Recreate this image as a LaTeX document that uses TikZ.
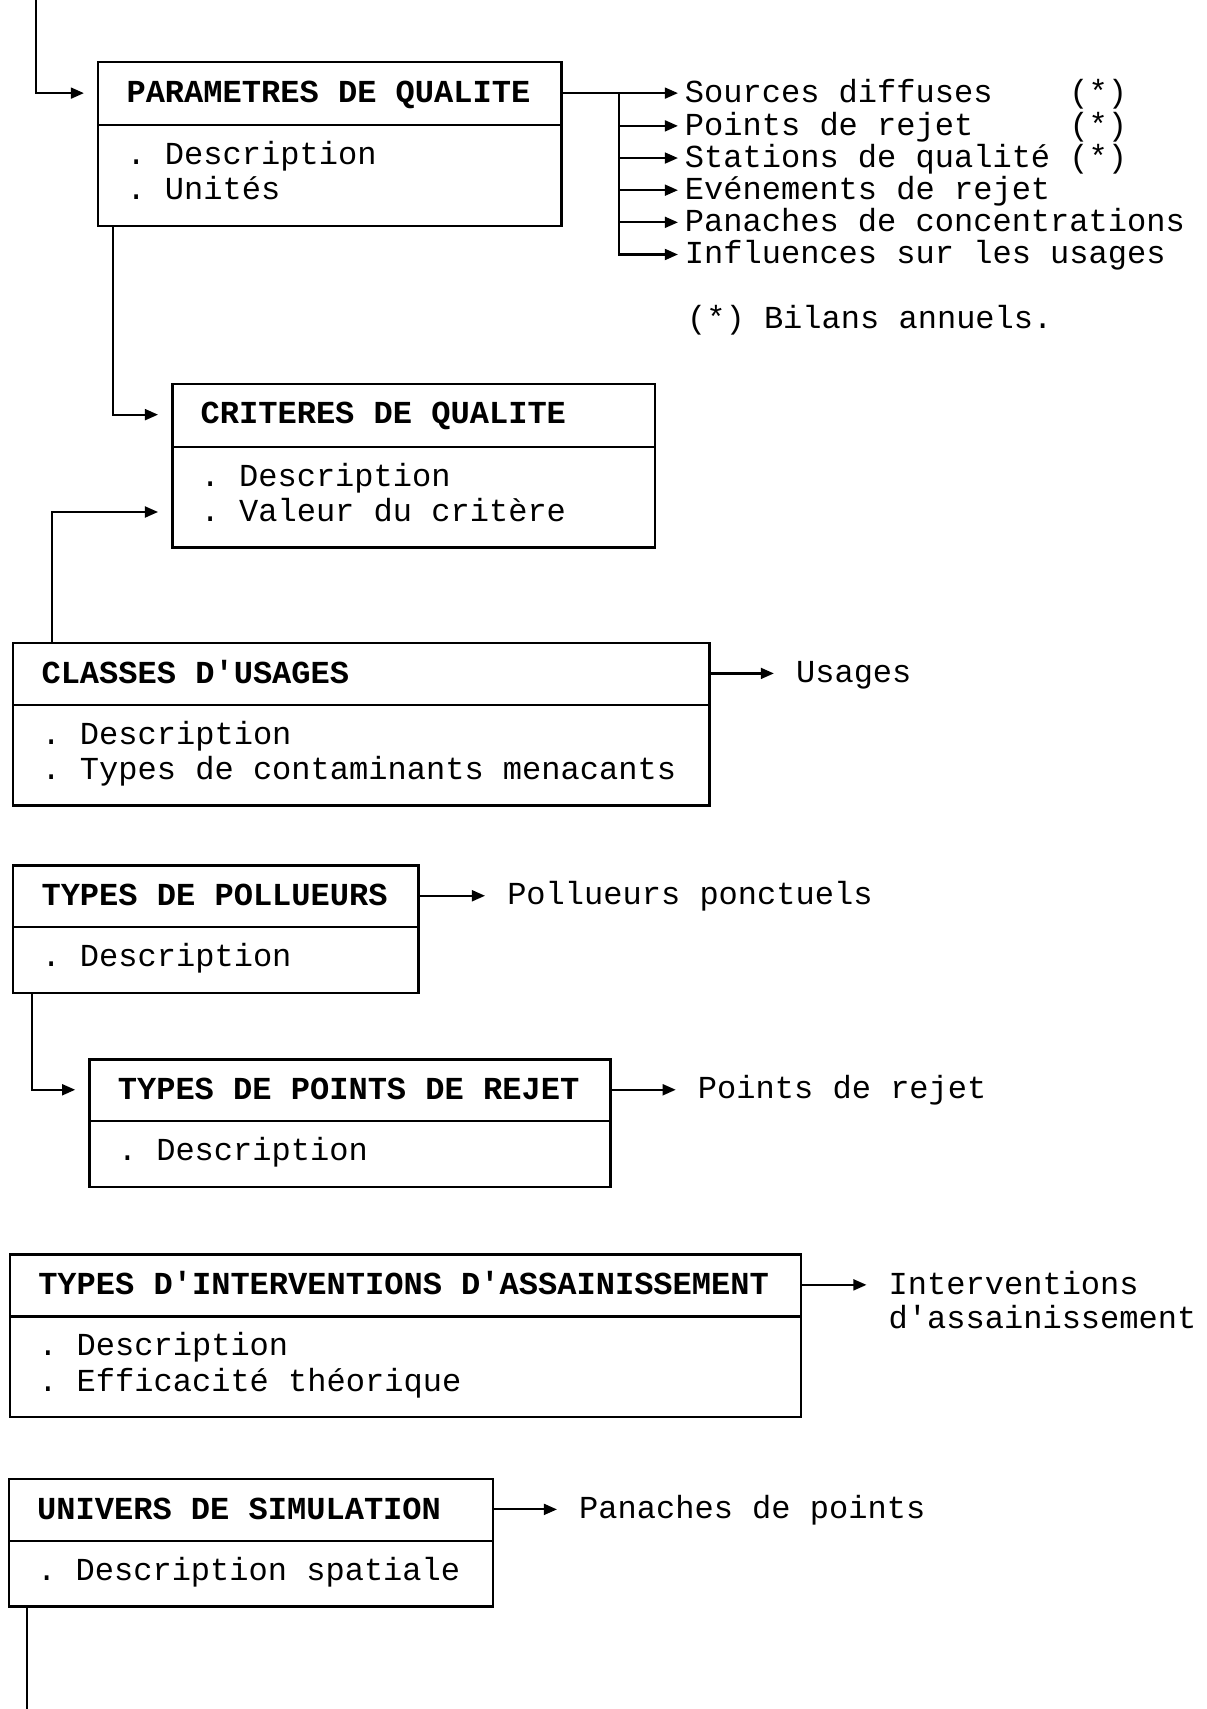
\documentclass[tikz,border=0pt]{standalone}
\usepackage{fontspec}
\setmonofont{Liberation Mono}
\usepackage{tikz}
\usetikzlibrary{shapes.multipart,arrows.meta,calc}
\newdimen\unitsize
\setlength{\unitsize}{0.5pt}
\newcommand\hstrut{\vrule height 10.9pt depth 2.3pt width 0pt}
\newcommand\lstrut{\vrule height 11.6pt depth 3.1pt width 0pt}

\begin{document}
\frenchspacing
\begin{tikzpicture}[x=\unitsize,y=\unitsize,font=\ttfamily\fontsize{14.7}{14.7}\selectfont]
\tikzset{entity/.style={draw, line width=1.1pt, rectangle split, rectangle split parts=2, anchor=north west, align=left, inner xsep=13pt, inner ysep=7pt, text width=#1, execute at begin node={\spaceskip=0pt\xspaceskip=0pt}}}%
\tikzset{wire/.style={line width=1pt}}%
\tikzset{link/.style={wire, -{Triangle[length=6pt,width=5pt]}}}%
\tikzset{tobox/.style={link, shorten >=6pt}}%
\tikzset{outtext/.style={anchor=west, align=left, inner xsep=10pt, inner ysep=0pt, execute at begin node={\spaceskip=0pt\xspaceskip=0pt}}}%
\tikzset{listtext/.style={anchor=west, inner xsep=3pt, inner ysep=0pt}}%
\useasboundingbox (0,0) rectangle (1107,-1568);
\node[entity=186.5pt] (param) at (89,-56) {\textbf{PARAMETRES DE QUALITE}\hstrut\nodepart{two}. Description\strut\\. Unités\strut};
\node[entity=195.5pt] (crit) at (157,-351) {\textbf{CRITERES DE QUALITE}\hstrut\nodepart{two}. Description\strut\\. Valeur du critère\strut};
\node[entity=293.5pt] (classes) at (11,-589) {\textbf{CLASSES D'USAGES}\hstrut\nodepart{two}. Description\strut\\. Types de contaminants menacants\strut};
\node[entity=160pt] (poll) at (11,-793) {\textbf{TYPES DE POLLUEURS}\hstrut\nodepart{two}. Description\strut};
\node[entity=213pt] (points) at (81,-971) {\textbf{TYPES DE POINTS DE REJET}\hstrut\nodepart{two}. Description\strut};
\node[entity=337pt] (interv) at (8,-1150) {\textbf{TYPES D'INTERVENTIONS D'ASSAINISSEMENT}\hstrut\nodepart{two}. Description\strut\\. Efficacité théorique\strut};
\node[entity=196pt] (univ) at (7,-1356) {\textbf{UNIVERS DE SIMULATION}\hstrut\nodepart{two}. Description spatiale\strut};
%
\coordinate (paramW) at ($(param.north west)!.5!(param.text split west)$);
\coordinate (paramE) at ($(param.north east)!.5!(param.text split east)$);
\coordinate (critW) at ($(crit.north west)!.5!(crit.text split west)$);
\coordinate (critV) at ($(crit.text split west)!.64!(crit.south west)$);
\coordinate (classesE) at ($(classes.north east)!.5!(classes.text split east)$);
\coordinate (pollE) at ($(poll.north east)!.5!(poll.text split east)$);
\coordinate (pointsW) at ($(points.north west)!.5!(points.text split west)$);
\coordinate (pointsE) at ($(points.north east)!.5!(points.text split east)$);
\coordinate (intervE) at ($(interv.north east)!.5!(interv.text split east)$);
\coordinate (univE) at ($(univ.north east)!.5!(univ.text split east)$);
\coordinate (entryA) at (33,0);
\coordinate (exitB) at (25,-1568);
%
\foreach \i/\txt in {1/Sources diffuses~~~~(*),2/Points de rejet~~~~~(*),3/Stations de qualité~(*),4/Evénements de rejet,5/Panaches de concentrations,6/Influences sur les usages}
  \node[listtext] (out\i) at (622,{-86-29.5*(\i-1)}) {\txt\lstrut};
\node[listtext] (note) at (624,-293) {(*) Bilans annuels.\lstrut};
\node[outtext] (usages) at (710,-617.7) {Usages\lstrut};
\node[outtext] (pollp) at (445,-821.7) {Pollueurs ponctuels\lstrut};
\node[outtext] (rejet) at (620,-999.7) {Points de rejet\lstrut};
\node[outtext] (assain) at (795,-1195) {Interventions\lstrut\\d'assainissement\lstrut};
\node[outtext] (panache) at (511,-1384.7) {Panaches de points\lstrut};
%
\draw[tobox] (entryA) |- (paramW);
\draw[link] (paramE) -- (paramE -| out1.west);
\coordinate (fork) at ($(paramE)+(52,0)$);
\foreach \i in {2,...,6} \draw[link] (fork) |- (out\i.west);
\draw[tobox] ($(param.south west)+(15,0)$) |- (critW);
\draw[tobox] ($(classes.north west)+(37,0)$) |- (critV);
\draw[link] (classesE) -- (classesE -| usages.west);
\draw[link] (pollE) -- (pollE -| pollp.west);
\draw[tobox] ($(poll.south west)+(18,0)$) |- (pointsW);
\draw[link] (pointsE) -- (pointsE -| rejet.west);
\draw[link] (intervE) -- (intervE -| assain.west);
\draw[link] (univE) -- (univE -| panache.west);
\draw[wire] ($(univ.south west)+(18,0)$) -- (exitB);
\end{tikzpicture}
\end{document}
